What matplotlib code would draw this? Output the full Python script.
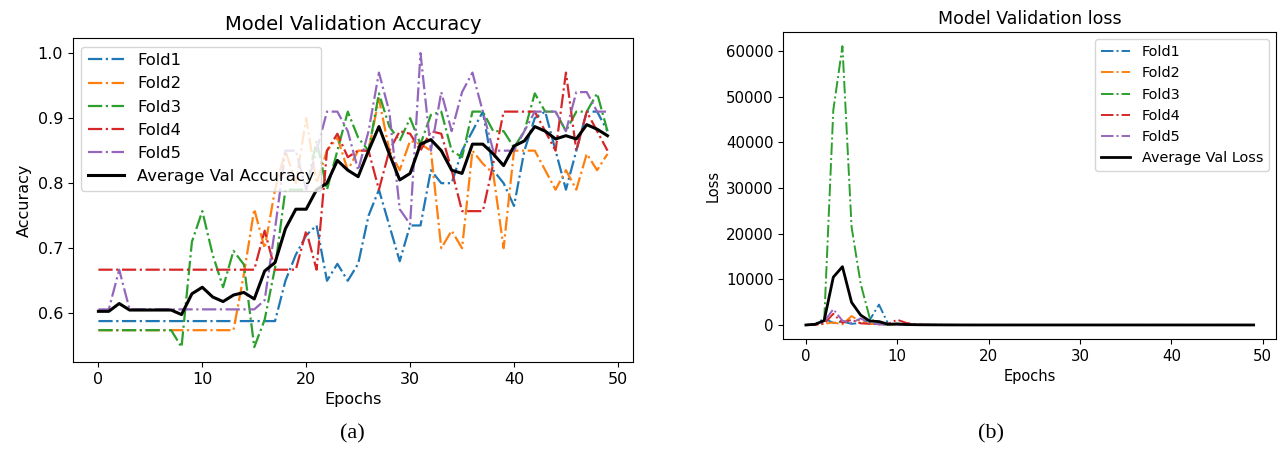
"""Cross-validation curves: validation accuracy (a) and validation loss (b) per fold."""

import matplotlib
matplotlib.use("Agg")
import matplotlib.pyplot as plt
import numpy as np

# ---------------------------------------------------------------------------
# Data
# ---------------------------------------------------------------------------

epochs = np.arange(50)
fold_names = ["Fold1", "Fold2", "Fold3", "Fold4", "Fold5"]

acc_fold1 = [0.588] * 18 + [
    0.65, 0.69, 0.72, 0.735, 0.65, 0.676, 0.65, 0.676, 0.75, 0.79,
    0.735, 0.68, 0.735, 0.735, 0.82, 0.80, 0.80, 0.85, 0.88, 0.91,
    0.82, 0.80, 0.765, 0.85, 0.90, 0.91, 0.85, 0.79, 0.85, 0.91,
    0.91, 0.88,
]
acc_fold2 = [0.574] * 14 + [
    0.66, 0.76, 0.70, 0.79, 0.85, 0.80, 0.90, 0.80, 0.85, 0.87,
    0.82, 0.85, 0.85, 0.93, 0.85, 0.82, 0.865, 0.86, 0.85, 0.70,
    0.727, 0.70, 0.85, 0.83, 0.815, 0.70, 0.85, 0.85, 0.85, 0.82,
    0.79, 0.82, 0.79, 0.845, 0.82, 0.845,
]
acc_fold3 = [0.574] * 8 + [
    0.548, 0.71, 0.757, 0.69, 0.64, 0.696, 0.675, 0.548, 0.59, 0.67,
    0.79, 0.79, 0.79, 0.865, 0.79, 0.85, 0.91, 0.87, 0.85, 0.938,
    0.887, 0.865, 0.90, 0.86, 0.905, 0.91, 0.85, 0.84, 0.91, 0.91,
    0.88, 0.88, 0.855, 0.88, 0.938, 0.91, 0.91, 0.88, 0.91, 0.91,
    0.938, 0.88,
]
acc_fold4 = [0.667] * 16 + [
    0.727, 0.667, 0.667, 0.667, 0.727, 0.667, 0.85, 0.876, 0.84, 0.85,
    0.85, 0.79, 0.85, 0.88, 0.876, 0.85, 0.88, 0.876, 0.82, 0.757,
    0.757, 0.757, 0.83, 0.91, 0.91, 0.91, 0.91, 0.88, 0.85, 0.97,
    0.85, 0.91, 0.88, 0.85,
]
acc_fold5 = [0.606, 0.606, 0.667] + [0.606] * 13 + [
    0.62, 0.73, 0.85, 0.85, 0.79, 0.85, 0.91, 0.91, 0.88, 0.82,
    0.88, 0.97, 0.91, 0.76, 0.737, 1.0, 0.85, 0.94, 0.88, 0.94,
    0.97, 0.91, 0.85, 0.85, 0.85, 0.88, 0.91, 0.91, 0.91, 0.88,
    0.94, 0.94, 0.91, 0.91,
]
acc_average = [
    0.603, 0.603, 0.615, 0.605, 0.605, 0.605, 0.605, 0.605, 0.598, 0.63,
    0.64, 0.625, 0.618, 0.628, 0.632, 0.622, 0.665, 0.678, 0.73, 0.76,
    0.76, 0.79, 0.80, 0.835, 0.82, 0.81, 0.85, 0.887, 0.845, 0.805,
    0.815, 0.86, 0.867, 0.85, 0.82, 0.815, 0.86, 0.86, 0.845, 0.827,
    0.857, 0.865, 0.887, 0.88, 0.868, 0.873, 0.868, 0.89, 0.883, 0.873,
]

loss_fold1 = [
    60, 150, 1500, 500, 800, 300, 500, 1200, 4500, 300,
    200, 150, 120, 100, 90, 80, 80, 70, 70, 60,
] + [60] * 30
loss_fold2 = [
    40, 120, 300, 600, 200, 2000, 800, 300, 200, 150,
    120, 100, 90, 80, 70, 60, 60, 50, 50, 50,
] + [50] * 30
loss_fold3 = [
    50, 150, 800, 47000, 61000, 21500, 9000, 1500, 300, 100,
    80, 70, 60, 50, 50, 50, 50, 50, 50, 50,
] + [50] * 30
loss_fold4 = [
    40, 100, 300, 2500, 500, 1200, 400, 300, 200, 300,
    1200, 500, 200, 100, 80, 70, 60, 50, 50, 50,
] + [50] * 30
loss_fold5 = [
    50, 200, 800, 3500, 1000, 500, 1500, 400, 200, 150,
    100, 90, 80, 70, 60, 60, 50, 50, 50, 50,
] + [50] * 30
loss_average = [
    50, 200, 1000, 10500, 12800, 5000, 2200, 900, 800, 200,
    300, 150, 110, 90, 80, 70, 60, 60, 55, 55,
] + [55] * 30

fold_colors = ["#1f77b4", "#ff7f0e", "#2ca02c", "#d62728", "#9467bd"]

# ---------------------------------------------------------------------------
# Figure
# ---------------------------------------------------------------------------

fig = plt.figure(figsize=(12.8, 4.5), dpi=100)

# (a) accuracy
ax_acc = fig.add_axes([0.057, 0.196, 0.4375, 0.7187])
acc_folds = [acc_fold1, acc_fold2, acc_fold3, acc_fold4, acc_fold5]
for name, vals, c in zip(fold_names, acc_folds, fold_colors):
    ax_acc.plot(epochs, vals, linestyle="-.", color=c, linewidth=1.6, label=name)
ax_acc.plot(epochs, acc_average, color="black", linewidth=2.2, label="Average Val Accuracy")
ax_acc.set_title("Model Validation Accuracy", fontsize=14)
ax_acc.set_xlabel("Epochs", fontsize=11.5)
ax_acc.set_ylabel("Accuracy", fontsize=11.5)
ax_acc.tick_params(labelsize=11.5)
ax_acc.set_yticks([0.6, 0.7, 0.8, 0.9, 1.0])
ax_acc.set_xticks([0, 10, 20, 30, 40, 50])
ax_acc.legend(loc="upper left", fontsize=11.8, handlelength=2.2)

# (b) loss
ax_loss = fig.add_axes([0.6121, 0.2467, 0.3848, 0.6816])
loss_folds = [loss_fold1, loss_fold2, loss_fold3, loss_fold4, loss_fold5]
for name, vals, c in zip(fold_names, loss_folds, fold_colors):
    ax_loss.plot(epochs, vals, linestyle="-.", color=c, linewidth=1.4, label=name)
ax_loss.plot(epochs, loss_average, color="black", linewidth=2.0, label="Average Val Loss")
ax_loss.set_title("Model Validation loss", fontsize=12.5)
ax_loss.set_xlabel("Epochs", fontsize=10.5)
ax_loss.set_ylabel("Loss", fontsize=10.5)
ax_loss.tick_params(labelsize=10.8)
ax_loss.set_xticks([0, 10, 20, 30, 40, 50])
ax_loss.legend(loc="upper right", fontsize=10.4)

# panel captions
fig.text(0.275, 0.035, "(a)", ha="center", va="center", fontsize=16, family="Liberation Serif")
fig.text(0.774, 0.035, "(b)", ha="center", va="center", fontsize=16, family="Liberation Serif")

fig.savefig("out.png", dpi=100)
